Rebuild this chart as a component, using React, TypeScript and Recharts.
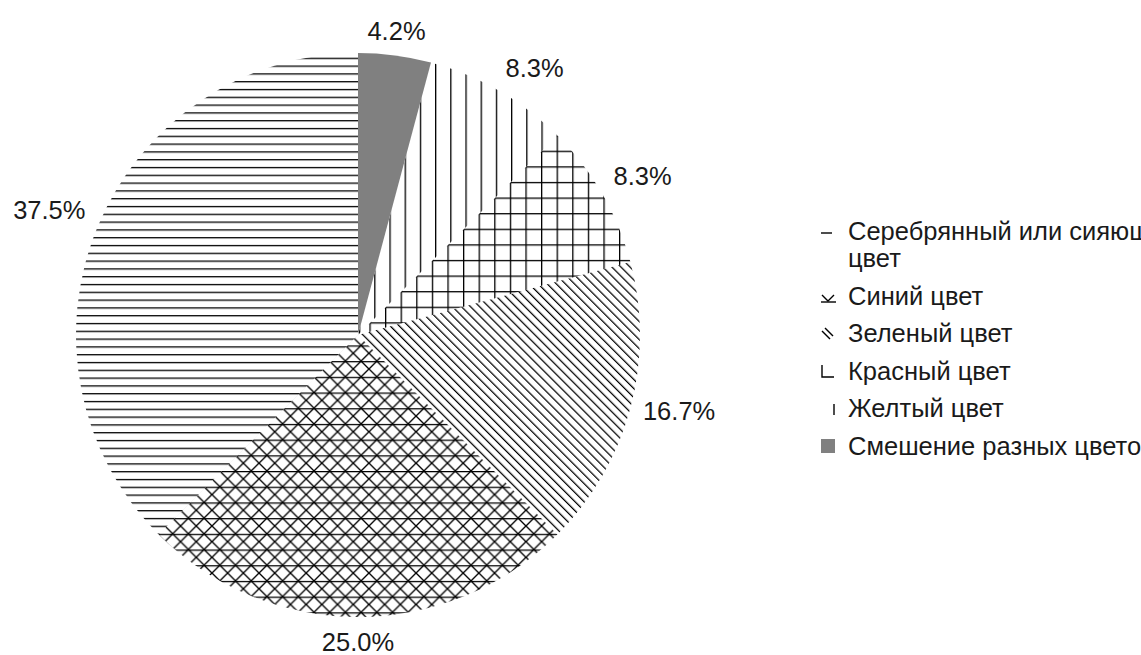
import React from "react";
import { PieChart, Pie, Cell, Legend } from "recharts";

// ---- data ----
const categories: string[] = [
  "Серебрянный или сияющий цвет",
  "Синий цвет",
  "Зеленый цвет",
  "Красный цвет",
  "Желтый цвет",
  "Смешение разных цветов",
];
const counts: number[] = [9, 6, 4, 2, 2, 1];

const data = categories.map((name, i) => ({ name, value: counts[i] }));

// ---- styles ----
const FONT = "'Liberation Sans', Arial, sans-serif";
const FONT_SIZE = 25.5;
const TEXT_COLOR = "#1a1a1a";
const GRAY = "#808080";
const patternFills = [
  "url(#pat-hlines)",
  "url(#pat-diamond)",
  "url(#pat-diag)",
  "url(#pat-grid)",
  "url(#pat-vlines)",
  GRAY,
];

const charW: Record<string, number> = { ".": 0.278, "%": 0.889 };
const textWidth = (s: string) =>
  s.split("").reduce((a, c) => a + (charW[c] ?? 0.556), 0) * FONT_SIZE;

const RADIAN = Math.PI / 180;
const renderLabel = (props: any) => {
  const { cx, cy, midAngle, outerRadius, percent } = props;
  const txt = `${(percent * 100).toFixed(1)}%`;
  const a = ((midAngle % 360) + 360) % 360;
  const cos = Math.cos(a * RADIAN);
  const sin = Math.sin(a * RADIAN);
  const hw = textWidth(txt) / 2;
  const hh = 12;
  const g = 13;
  const px = cx + (outerRadius + g) * cos;
  const py = cy - (outerRadius + g) * sin;
  const eps = 1e-6;
  let dx = 0;
  let dy = 0; // +1 = above anchor
  if (a <= 22.5 + eps || a >= 337.5 - eps) { dx = 1; dy = 0; }
  else if (a < 67.5) { dx = 1; dy = 1; }
  else if (a < 112.5) { dx = 0; dy = 1; }
  else if (a <= 157.5 + eps) { dx = -1; dy = 1; }
  else if (a <= 202.5 + eps) { dx = -1; dy = 0; }
  else if (a < 247.5) { dx = -1; dy = -1; }
  else if (a < 292.5) { dx = 0; dy = -1; }
  else { dx = 1; dy = -1; }
  const x = px + dx * hw;
  const y = py - dy * hh;
  return (
    <text
      x={x}
      y={y}
      textAnchor="middle"
      dominantBaseline="central"
      fontFamily={FONT}
      fontSize={FONT_SIZE}
      fill={TEXT_COLOR}
    >
      {txt}
    </text>
  );
};

const LegendIcon = ({ index }: { index: number }) => {
  const s = { stroke: "#000", strokeWidth: 1.4, fill: "none" } as const;
  let content: React.ReactNode = null;
  switch (index) {
    case 0:
      content = <line x1={0} y1={8} x2={11} y2={8} {...s} />;
      break;
    case 1:
      content = (
        <g {...s}>
          <path d="M1 6 L7 12 L13 6" />
          <line x1={0} y1={13} x2={15} y2={13} />
        </g>
      );
      break;
    case 2:
      content = (
        <g {...s}>
          <line x1={1} y1={4} x2={9} y2={12} />
          <line x1={4} y1={1} x2={12} y2={9} />
        </g>
      );
      break;
    case 3:
      content = <path d="M1 1 L1 13 L13 13" {...s} />;
      break;
    case 4:
      content = <line x1={13} y1={2} x2={13} y2={13} {...s} />;
      break;
    default:
      content = <rect x={0} y={0} width={14} height={14} fill={GRAY} />;
  }
  return (
    <svg width={16} height={14} style={{ display: "block" }}>
      {content}
    </svg>
  );
};

const renderLegend = () => (
  <div style={{ fontFamily: FONT, fontSize: FONT_SIZE, color: TEXT_COLOR }}>
    {categories.map((name, i) => (
      <div
        key={i}
        style={{
          display: "flex",
          alignItems: "flex-start",
          lineHeight: "27px",
          marginBottom: 10.5,
        }}
      >
        <div style={{ width: 27, paddingTop: 6.5, paddingLeft: 3 }}>
          <LegendIcon index={i} />
        </div>
        <div style={{ width: 365, whiteSpace: "normal" }}>{name}</div>
      </div>
    ))}
  </div>
);

export default function App() {
  return (
    <div
      style={{
        position: "absolute",
        left: 0,
        top: 0,
        width: 1141,
        height: 655,
        overflow: "hidden",
        background: "#fff",
      }}
    >
      <PieChart
        width={1141}
        height={655}
        margin={{ top: 0, right: 0, bottom: 0, left: 0 }}
      >
        <defs>
          <pattern
            id="pat-hlines"
            patternUnits="userSpaceOnUse"
            width={16}
            height={7.8}
            y={3.1}
          >
            <line x1={0} y1={0.6} x2={16} y2={0.6} stroke="#000" strokeWidth={1.4} />
          </pattern>
          <pattern
            id="pat-vlines"
            patternUnits="userSpaceOnUse"
            width={15.2}
            height={16}
            x={9.4}
          >
            <line x1={0.6} y1={0} x2={0.6} y2={16} stroke="#000" strokeWidth={1.4} />
          </pattern>
          <pattern
            id="pat-grid"
            patternUnits="userSpaceOnUse"
            width={15.6}
            height={15.6}
            x={10.6}
            y={10.3}
          >
            <line x1={0.6} y1={0} x2={0.6} y2={15.6} stroke="#000" strokeWidth={1.4} />
            <line x1={0} y1={0.6} x2={15.6} y2={0.6} stroke="#000" strokeWidth={1.4} />
          </pattern>
          <pattern
            id="pat-diag"
            patternUnits="userSpaceOnUse"
            width={6.4}
            height={6.4}
            patternTransform="rotate(-45)"
          >
            <line x1={0.6} y1={0} x2={0.6} y2={6.4} stroke="#000" strokeWidth={1.3} />
          </pattern>
          <pattern
            id="pat-diamond"
            patternUnits="userSpaceOnUse"
            width={15.7}
            height={15.7}
          >
            <g stroke="#000" strokeWidth={1.3}>
              <line x1={0} y1={0} x2={15.7} y2={15.7} />
              <line x1={15.7} y1={0} x2={0} y2={15.7} />
              <line x1={0} y1={0.6} x2={15.7} y2={0.6} />
            </g>
          </pattern>
        </defs>
        <Pie
          data={data}
          dataKey="value"
          nameKey="name"
          cx={358}
          cy={335}
          outerRadius={282}
          startAngle={90}
          endAngle={450}
          stroke="none"
          label={renderLabel}
          labelLine={false}
          isAnimationActive={false}
        >
          {data.map((_, i) => (
            <Cell key={i} fill={patternFills[i]} stroke="none" />
          ))}
        </Pie>
        <Legend
          layout="vertical"
          align="right"
          verticalAlign="top"
          content={renderLegend}
          wrapperStyle={{ left: 818, top: 218, width: 400 }}
        />
      </PieChart>
    </div>
  );
}
